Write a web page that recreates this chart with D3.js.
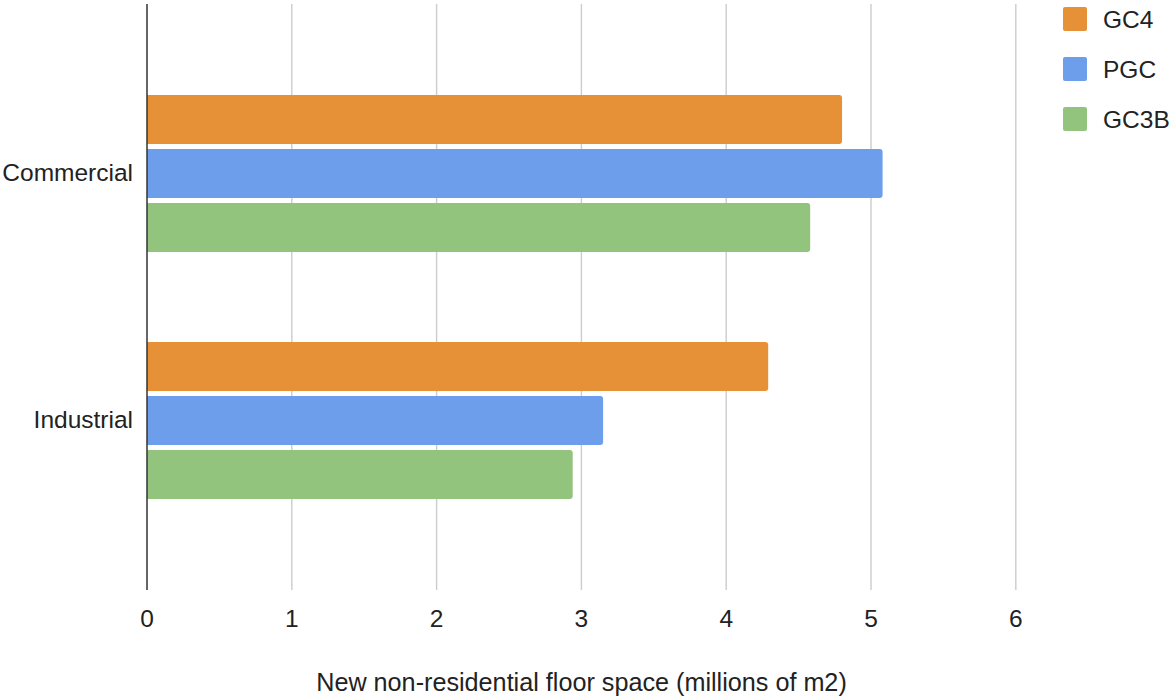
<!DOCTYPE html>
<html>
<head>
<meta charset="utf-8">
<script src="https://cdn.jsdelivr.net/npm/d3@7"></script>
<style>
  html, body { margin: 0; padding: 0; background: #fff; }
  svg { display: block; font-family: "Liberation Sans", Arial, sans-serif; }
</style>
</head>
<body>
<svg id="chart" width="1172" height="696"></svg>
<script>
// Floor space by land-use category, one bar per scenario
const categories = ["Commercial", "Industrial"];
const seriesNames = ["GC4", "PGC", "GC3B"];
const gc4 = [4.80, 4.29];
const pgc = [5.08, 3.15];
const gc3b = [4.58, 2.94];
const seriesColors = ["#e69138", "#6d9eeb", "#93c47d"];
const xTicks = [0, 1, 2, 3, 4, 5, 6];
const xTitle = "New non-residential floor space (millions of m2)";

const seriesValues = [gc4, pgc, gc3b];
const fontSize = 24.5;

const svg = d3.select("#chart");
const plot = { left: 147, right: 1160, top: 4, bottom: 590 };

const x = d3.scaleLinear().domain([0, 6]).range([plot.left, plot.left + 6 * 144.8]);
const y = d3.scaleBand().domain(categories).range([plot.top, plot.bottom])
  .paddingInner(0.364).paddingOuter(0.368);
const ySub = d3.scaleBand().domain(seriesNames).range([0, y.bandwidth()])
  .paddingInner(0.093);

// vertical gridlines
svg.append("g").selectAll("line").data(xTicks.filter(d => d !== 0)).join("line")
  .attr("x1", d => x(d)).attr("x2", d => x(d))
  .attr("y1", plot.top).attr("y2", plot.bottom)
  .attr("stroke", "#cccccc").attr("stroke-width", 1.4);

// tick labels
svg.append("g").selectAll("text").data(xTicks).join("text")
  .attr("x", d => x(d)).attr("y", 627)
  .attr("text-anchor", "middle")
  .attr("font-size", fontSize).attr("fill", "#222")
  .text(d => d);

// bars with rounded ends
const r = 3;
function barPath(x0, x1, y0, h) {
  const w = x1 - x0;
  const rr = Math.min(r, w / 2, h / 2);
  return `M${x0},${y0}H${x1 - rr}Q${x1},${y0} ${x1},${y0 + rr}V${y0 + h - rr}Q${x1},${y0 + h} ${x1 - rr},${y0 + h}H${x0}Z`;
}
const barData = [];
categories.forEach((c, ci) => {
  seriesNames.forEach((s, si) => {
    barData.push({ cat: c, series: s, value: seriesValues[si][ci], color: seriesColors[si] });
  });
});
svg.append("g").selectAll("path").data(barData).join("path")
  .attr("d", d => barPath(x(0), x(d.value), y(d.cat) + ySub(d.series), ySub.bandwidth()))
  .attr("fill", d => d.color);

// baseline at zero
svg.append("line")
  .attr("x1", x(0)).attr("x2", x(0))
  .attr("y1", plot.top).attr("y2", plot.bottom)
  .attr("stroke", "#333").attr("stroke-width", 1.5);

// category labels
svg.append("g").selectAll("text").data(categories).join("text")
  .attr("x", 133).attr("y", d => y(d) + y.bandwidth() / 2 - 1)
  .attr("dy", "0.35em")
  .attr("text-anchor", "end")
  .attr("font-size", fontSize).attr("fill", "#222")
  .text(d => d);

// x-axis title
svg.append("text")
  .attr("x", (317 + 846) / 2).attr("y", 691)
  .attr("text-anchor", "middle")
  .attr("font-size", 25.2).attr("fill", "#222")
  .text(xTitle);

// legend
const legend = svg.append("g").selectAll("g").data(seriesNames).join("g")
  .attr("transform", (d, i) => `translate(1063, ${7 + i * 50})`);
legend.append("rect")
  .attr("width", 24).attr("height", 24).attr("rx", 2)
  .attr("fill", (d, i) => seriesColors[i]);
legend.append("text")
  .attr("x", 40).attr("y", 12).attr("dy", "0.35em")
  .attr("font-size", fontSize).attr("fill", "#222")
  .text(d => d);
</script>
</body>
</html>
